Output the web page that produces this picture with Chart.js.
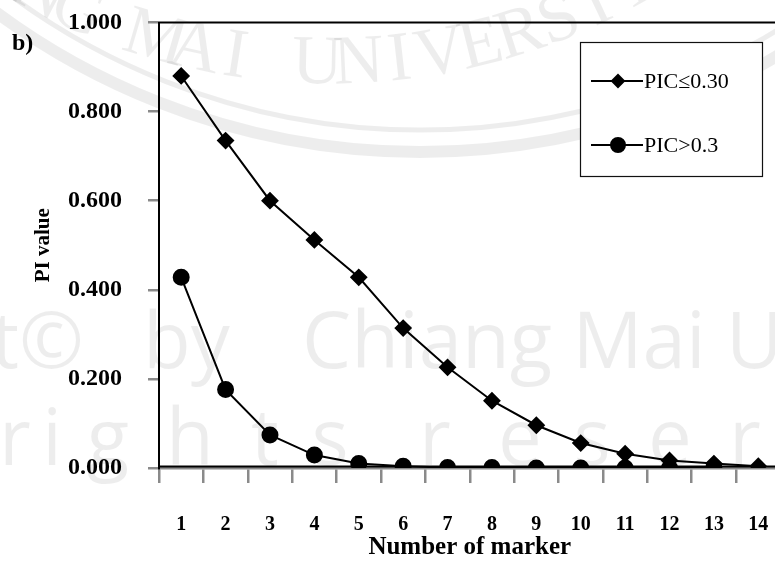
<!DOCTYPE html>
<html>
<head>
<meta charset="utf-8">
<title>PI value</title>
<script src="https://cdn.jsdelivr.net/npm/chart.js@4"></script>
<style>
  html, body { margin: 0; padding: 0; background: #fff; overflow: hidden; }
</style>
</head>
<body>
<canvas id="myChart" width="790" height="565"></canvas>
<script>
// chart data
var categories = ['1', '2', '3', '4', '5', '6', '7', '8', '9', '10', '11', '12', '13', '14'];
var picLow = [0.880, 0.735, 0.600, 0.512, 0.428, 0.314, 0.226, 0.151, 0.096, 0.056, 0.032, 0.017, 0.010, 0.004];
var picHigh = [0.428, 0.176, 0.074, 0.029, 0.010, 0.004, 0.001, 0.001, 0.000, 0.000, 0.000, 0.000, 0.000, null];
var yTicks = [0, 0.2, 0.4, 0.6, 0.8, 1.0];
var seriesNames = ['PIC\u22640.30', 'PIC>0.3'];

var serif = "'Liberation Serif', 'Times New Roman', serif";

// faint university watermark behind the chart
var watermark = {
    id: 'watermark',
    beforeDraw: function (chart) {
        var ctx = chart.ctx;
        ctx.save();
        ctx.fillStyle = '#fff';
        ctx.fillRect(0, 0, chart.width, chart.height);
        var c = 'rgba(0,0,0,0.07)';
        ctx.strokeStyle = c;
        ctx.fillStyle = c;

        // seal rings
        ctx.lineWidth = 12;
        ctx.beginPath();
        ctx.arc(420, -560, 712, 0, Math.PI);
        ctx.stroke();
        ctx.lineWidth = 5;
        ctx.beginPath();
        ctx.arc(420, -560, 690, 0, Math.PI);
        ctx.stroke();

        // seal text along an arc
        var seal = 'CHIANG MAI UNIVERSITY';
        ctx.font = "70px 'Liberation Serif', serif";
        ctx.textAlign = 'center';
        ctx.textBaseline = 'middle';
        var cx = 330, cy = -560, r = 625, step = 0.066;
        var mid = (seal.length - 1) / 2;
        for (var i = 0; i < seal.length; i++) {
            var a = Math.PI / 2 + (mid - i) * step + 0.086;
            ctx.save();
            ctx.translate(cx + r * Math.cos(a), cy + r * Math.sin(a));
            ctx.rotate(a - Math.PI / 2);
            ctx.fillText(seal[i], 0, 0);
            ctx.restore();
        }

        ctx.textBaseline = 'alphabetic';
        ctx.font = "78px 'Open Sans', 'Noto Sans', sans-serif";
        ctx.textAlign = 'right';
        ctx.fillText('Copyright\u00a9', 84, 368);
        ctx.textAlign = 'left';
        ctx.fillText('by', 143, 368);
        ctx.fillText('Chiang Mai University', 302, 368);

        var letters = 'rightsreser';
        var xs = [15, 52, 108, 190, 265, 330, 435, 520, 592, 670, 745];
        ctx.textAlign = 'center';
        for (var j = 0; j < letters.length; j++) {
            ctx.fillText(letters[j], xs[j], 465);
        }
        ctx.restore();
    }
};

// plot frame, panel letter and the boxed legend
var frame = {
    id: 'frame',
    beforeDatasetsDraw: function (chart) {
        var a = chart.chartArea, ctx = chart.ctx;
        ctx.save();
        ctx.strokeStyle = '#000';
        ctx.lineWidth = 2;
        ctx.strokeRect(a.left, a.top, a.right - a.left, a.bottom - 1.5 - a.top);
        ctx.restore();
    },
    afterDraw: function (chart) {
        var ctx = chart.ctx;
        ctx.save();
        ctx.fillStyle = '#000';
        ctx.font = 'bold 24px ' + serif;
        ctx.textBaseline = 'alphabetic';
        ctx.fillText('b)', 12, 50);

        // legend box
        ctx.fillStyle = '#fff';
        ctx.fillRect(580, 42, 183, 135);
        ctx.strokeStyle = '#111';
        ctx.lineWidth = 1.2;
        ctx.strokeRect(580.5, 42.5, 182, 134);

        var rows = [81, 145];
        chart.data.datasets.forEach(function (ds, i) {
            var y = rows[i];
            ctx.strokeStyle = '#000';
            ctx.lineWidth = 2;
            ctx.beginPath();
            ctx.moveTo(591, y);
            ctx.lineTo(643, y);
            ctx.stroke();
            ctx.fillStyle = '#000';
            Chart.helpers.drawPoint(ctx, {
                pointStyle: ds.pointStyle,
                radius: ds.legendRadius,
                rotation: 0,
                borderWidth: 1
            }, 618, y);
            ctx.fill();
            ctx.fillStyle = '#000';
            ctx.font = '22px ' + serif;
            ctx.textBaseline = 'middle';
            ctx.fillText(ds.label, 644, y + 1);
        });
        ctx.restore();
    }
};

var ctx = document.getElementById('myChart').getContext('2d');
var chart = new Chart(ctx, {
    type: 'line',
    data: {
        labels: categories,
        datasets: [{
            label: seriesNames[0],
            data: picLow,
            borderColor: '#000',
            backgroundColor: '#000',
            borderWidth: 2,
            pointStyle: 'rectRot',
            pointRadius: 7.5,
            legendRadius: 6,
            pointBackgroundColor: '#000',
            pointBorderColor: '#000',
            tension: 0
        }, {
            label: seriesNames[1],
            data: picHigh,
            borderColor: '#000',
            backgroundColor: '#000',
            borderWidth: 2,
            pointStyle: 'circle',
            pointRadius: 7.5,
            legendRadius: 7,
            pointBackgroundColor: '#000',
            pointBorderColor: '#000',
            tension: 0
        }]
    },
    options: {
        responsive: false,
        animation: false,
        layout: { padding: { left: 0, top: 22.5, right: 8, bottom: 0 } },
        plugins: {
            legend: { display: false },
            tooltip: { enabled: false }
        },
        scales: {
            x: {
                offset: true,
                grid: {
                    offset: true,
                    drawOnChartArea: false,
                    color: '#8a8a8a',
                    lineWidth: 2.5,
                    tickLength: 15
                },
                border: { color: '#8a8a8a', width: 2.5 },
                ticks: {
                    color: '#000',
                    padding: 30,
                    maxRotation: 0,
                    font: { family: serif, size: 20, weight: 'bold' }
                },
                title: {
                    display: true,
                    text: 'Number of marker',
                    color: '#000',
                    font: { family: serif, size: 25, weight: 'bold' },
                    padding: { top: 0, bottom: 2 }
                },
                afterFit: function (s) {
                    s.height = 97;
                    s.paddingLeft = 0;
                    s.paddingRight = 0;
                }
            },
            y: {
                min: 0,
                max: 1,
                afterBuildTicks: function (s) {
                    s.ticks = yTicks.map(function (v) { return { value: v }; });
                },
                grid: {
                    drawOnChartArea: false,
                    color: '#8a8a8a',
                    lineWidth: 2.5,
                    tickLength: 11
                },
                border: { color: '#000', width: 2 },
                ticks: {
                    color: '#000',
                    padding: 26,
                    font: { family: serif, size: 24, weight: 'bold' },
                    callback: function (v) { return Number(v).toFixed(3); }
                },
                title: {
                    display: true,
                    text: 'PI value',
                    color: '#000',
                    font: { family: serif, size: 21, weight: 'bold' },
                    padding: { top: 31, bottom: 0 }
                },
                afterFit: function (s) {
                    s.width = 159;
                    s.paddingTop = 0;
                    s.paddingBottom = 0;
                }
            }
        }
    },
    plugins: [watermark, frame]
});
</script>
</body>
</html>
